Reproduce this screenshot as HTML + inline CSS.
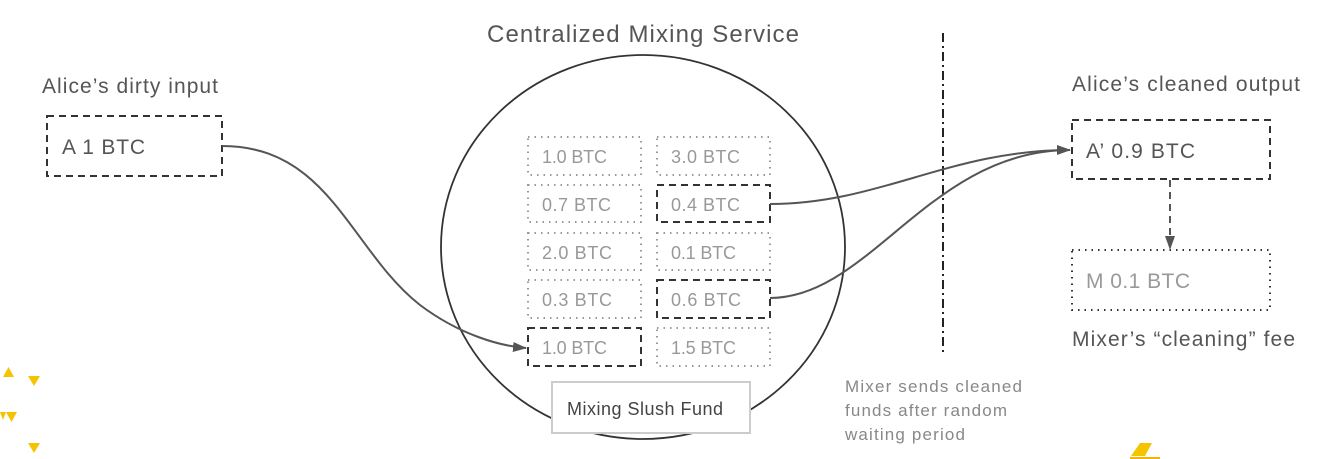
<!DOCTYPE html>
<html><head><meta charset="utf-8"><style>
body{margin:0;background:#fff;width:1344px;height:459px;overflow:hidden;font-family:"Liberation Sans",sans-serif}
</style></head><body>
<svg width="1344" height="459" xmlns="http://www.w3.org/2000/svg" style="position:absolute;left:0;top:0">
<defs><marker id="ar" markerWidth="14" markerHeight="12" refX="13" refY="6" orient="auto" markerUnits="userSpaceOnUse"><path d="M0,1 L14,6 L0,11 z" fill="#555"/></marker></defs>
<g font-family="Liberation Sans, sans-serif">
<text x="487" y="42" font-size="24" fill="#555" textLength="312" lengthAdjust="spacing">Centralized Mixing Service</text>
<text x="42" y="93" font-size="21" fill="#555" textLength="176" lengthAdjust="spacing">Alice’s dirty input</text>
<text x="1072" y="91" font-size="21" fill="#555" textLength="228" lengthAdjust="spacing">Alice’s cleaned output</text>
<text x="1072" y="346" font-size="21" fill="#555" textLength="223" lengthAdjust="spacing">Mixer’s “cleaning” fee</text>
<ellipse cx="643" cy="247" rx="202" ry="192" fill="none" stroke="#333" stroke-width="1.8"/>
<rect x="47" y="116" width="175" height="60" fill="none" stroke="#333" stroke-width="2" stroke-dasharray="7,5"/>
<text x="62" y="154" font-size="21" fill="#555" textLength="83" lengthAdjust="spacing">A  1 BTC</text>
<rect x="1072" y="120" width="198" height="59" fill="none" stroke="#333" stroke-width="2" stroke-dasharray="7,5"/>
<text x="1086" y="158" font-size="21" fill="#555" textLength="109" lengthAdjust="spacing">A’ 0.9 BTC</text>
<rect x="1072" y="250" width="198" height="60" fill="none" stroke="#333" stroke-width="2" stroke-dasharray="1.5,5"/>
<text x="1086" y="288" font-size="21" fill="#999" textLength="104" lengthAdjust="spacing">M 0.1 BTC</text>
<line x1="1170" y1="180" x2="1170" y2="249" stroke="#555" stroke-width="2" stroke-dasharray="7,5" marker-end="url(#ar)"/>
<line x1="943" y1="33" x2="943" y2="356" stroke="#222" stroke-width="2" stroke-dasharray="9,4,2,4"/>
<g font-size="18" fill="#999">
<rect x="528" y="137" width="113" height="38" fill="none" stroke="#999" stroke-width="2" stroke-dasharray="1.5,5"/><text x="542" y="163" textLength="65" lengthAdjust="spacing">1.0 BTC</text>
<rect x="657" y="137" width="113" height="38" fill="none" stroke="#999" stroke-width="2" stroke-dasharray="1.5,5"/><text x="671" y="163" textLength="69" lengthAdjust="spacing">3.0 BTC</text>
<rect x="528" y="185" width="113" height="37" fill="none" stroke="#999" stroke-width="2" stroke-dasharray="1.5,5"/><text x="542" y="211" textLength="69" lengthAdjust="spacing">0.7 BTC</text>
<rect x="657" y="185" width="113" height="37" fill="none" stroke="#333" stroke-width="2" stroke-dasharray="7,5"/><text x="671" y="211" textLength="69" lengthAdjust="spacing">0.4 BTC</text>
<rect x="528" y="233" width="113" height="37" fill="none" stroke="#999" stroke-width="2" stroke-dasharray="1.5,5"/><text x="542" y="259" textLength="70" lengthAdjust="spacing">2.0 BTC</text>
<rect x="657" y="233" width="113" height="37" fill="none" stroke="#999" stroke-width="2" stroke-dasharray="1.5,5"/><text x="671" y="259" textLength="65" lengthAdjust="spacing">0.1 BTC</text>
<rect x="528" y="280" width="113" height="38" fill="none" stroke="#999" stroke-width="2" stroke-dasharray="1.5,5"/><text x="542" y="306" textLength="70" lengthAdjust="spacing">0.3 BTC</text>
<rect x="657" y="280" width="113" height="38" fill="none" stroke="#333" stroke-width="2" stroke-dasharray="7,5"/><text x="671" y="306" textLength="70" lengthAdjust="spacing">0.6 BTC</text>
<rect x="528" y="328" width="113" height="38" fill="none" stroke="#333" stroke-width="2" stroke-dasharray="7,5"/><text x="542" y="354" textLength="65" lengthAdjust="spacing">1.0 BTC</text>
<rect x="657" y="328" width="113" height="38" fill="none" stroke="#999" stroke-width="2" stroke-dasharray="1.5,5"/><text x="671" y="354" textLength="65" lengthAdjust="spacing">1.5 BTC</text>
</g>
<rect x="552" y="382" width="198" height="51" fill="#fff" stroke="#ccc" stroke-width="2"/>
<text x="567" y="415" font-size="18" fill="#444" textLength="156" lengthAdjust="spacing">Mixing Slush Fund</text>
<g fill="none" stroke="#555" stroke-width="2">
<path d="M222,146 C330,146 350,250 420,305 C460,335 500,346 526,348" marker-end="url(#ar)"/>
<path d="M770,204 C880,204 950,150 1070,150" marker-end="url(#ar)"/>
<path d="M770,298 C870,298 930,150 1070,150"/>
</g>
<g font-size="17" fill="#888">
<text x="845" y="392" textLength="177" lengthAdjust="spacing">Mixer sends cleaned</text>
<text x="845" y="416" textLength="162" lengthAdjust="spacing">funds after random</text>
<text x="845" y="440" textLength="120" lengthAdjust="spacing">waiting period</text>
</g>
<g fill="#f5c400">
<path d="M3,377 L14,377 L8.5,367 z"/>
<path d="M28,376 L40,376 L34,386 z"/>
<path d="M0,412 L6,412 L3,420 z"/>
<path d="M6,412 L17,412 L11.5,422 z"/>
<path d="M28,443 L40,443 L34,453 z"/>
<path d="M1140,443 L1152,443 L1145,456 L1131,456 z"/>
<rect x="1130" y="457" width="30" height="2" fill="#f5b400"/>
</g>
</g></svg>
</body></html>
